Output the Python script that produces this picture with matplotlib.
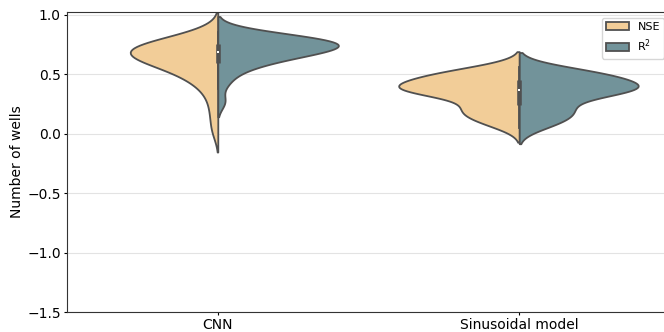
import matplotlib
matplotlib.use("Agg")
import matplotlib.pyplot as plt
import seaborn as sns
import pandas as pd
import numpy as np

models = ["CNN", "Sinusoidal model"]
metrics = ["NSE", "R$^2$"]

cnn_nse = [0.03, 0.17, 0.29, 0.38, 0.43, 0.47, 0.50, 0.525, 0.55, 0.57,
           0.588, 0.603, 0.616, 0.628, 0.639, 0.65, 0.66, 0.67, 0.679, 0.688,
           0.697, 0.706, 0.715, 0.724, 0.733, 0.742, 0.751, 0.76, 0.772, 0.788,
           0.805, 0.835]
cnn_r2 = [0.27, 0.42, 0.50, 0.545, 0.575, 0.60, 0.618, 0.633, 0.647, 0.66,
          0.672, 0.682, 0.692, 0.701, 0.71, 0.718, 0.726, 0.733, 0.74, 0.747,
          0.754, 0.761, 0.768, 0.775, 0.782, 0.789, 0.797, 0.805, 0.813, 0.825,
          0.84, 0.86]
sin_nse = [0.06, 0.08, 0.11, 0.13, 0.15, 0.17, 0.19, 0.20, 0.21, 0.22,
           0.25, 0.28, 0.31, 0.33, 0.34, 0.35, 0.355, 0.36, 0.365, 0.368,
           0.375, 0.38, 0.39, 0.40, 0.405, 0.41, 0.415, 0.42, 0.43, 0.45,
           0.47, 0.475, 0.48, 0.49, 0.50, 0.51, 0.52, 0.53, 0.545, 0.56]
sin_r2 = [0.05, 0.07, 0.10, 0.12, 0.14, 0.16, 0.18, 0.19, 0.21, 0.22,
          0.25, 0.28, 0.30, 0.32, 0.34, 0.35, 0.355, 0.36, 0.365, 0.368,
          0.375, 0.38, 0.39, 0.40, 0.405, 0.41, 0.415, 0.42, 0.43, 0.45,
          0.47, 0.475, 0.48, 0.49, 0.50, 0.51, 0.52, 0.53, 0.54, 0.55]

yticks = [-1.5, -1.0, -0.5, 0.0, 0.5, 1.0]
colors = ["#F2CD98", "#72939A"]
line_gray = "#505050"

groups = {"CNN": (cnn_nse, cnn_r2), "Sinusoidal model": (sin_nse, sin_r2)}
rows = []
for m in models:
    for met, vals in zip(metrics, groups[m]):
        for v in vals:
            rows.append({"model": m, "metric": met, "value": v})
df = pd.DataFrame(rows)

fig = plt.figure(figsize=(6.64, 3.32), dpi=100)
ax = fig.add_axes([0.101, 0.060, 0.908, 0.904])
ax.set_axisbelow(True)
ax.grid(True, color="#e3e3e3", linewidth=0.8)

# densities scaled within each model (both halves share one maximum)
for k, m in enumerate(models):
    sns.violinplot(data=df[df["model"] == m], x="model", y="value", hue="metric",
                   split=True, palette=colors, saturation=1, inner=None,
                   linecolor=line_gray, linewidth=1.3, density_norm="area",
                   common_norm=True, ax=ax, order=models, hue_order=metrics,
                   legend=(k == 0))

# inner box for the whole group (both metrics together)
for i, m in enumerate(models):
    vals = np.array(groups[m][0] + groups[m][1])
    q1, q2, q3 = np.percentile(vals, [25, 50, 75])
    iqr = q3 - q1
    lo = vals[vals >= q1 - 1.5 * iqr].min()
    hi = vals[vals <= q3 + 1.5 * iqr].max()
    ax.plot([i, i], [lo, hi], color=line_gray, linewidth=1.3, zorder=3)
    ax.plot([i, i], [q1, q3], color=line_gray, linewidth=3.3,
            solid_capstyle="butt", zorder=3)
    ax.scatter([i], [q2], s=3, color="white", marker="s", linewidths=0, zorder=4)

ax.set_xlim(-0.5, 1.5)
ax.set_ylim(-1.5, 1.025)
ax.set_yticks(yticks)
ax.set_xlabel("")
ax.set_ylabel("Number of wells", fontsize=10, labelpad=2)
ax.tick_params(axis="x", labelsize=10, length=2.5, pad=1.5)
ax.tick_params(axis="y", labelsize=10, length=2.5, pad=2)
for s in ax.spines.values():
    s.set_color("#333333")
leg = ax.legend(loc="upper right", fontsize=8, frameon=True)
leg.set_title(None)

fig.savefig("out.png", dpi=100)
